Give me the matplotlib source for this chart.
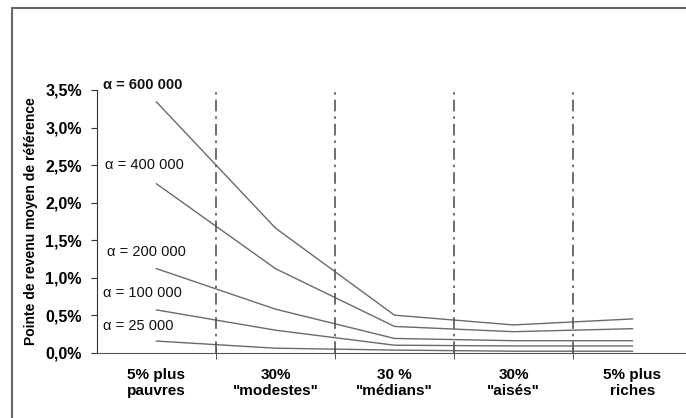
import matplotlib
matplotlib.use("Agg")
import matplotlib.pyplot as plt
from matplotlib.patches import Rectangle
from matplotlib.ticker import FuncFormatter

plt.rcParams['font.family'] = ['Liberation Sans', 'DejaVu Sans']

# categories de revenu
categories = ['5% plus\npauvres', '30%\n"modestes"', '30 %\n"médians"',
              '30%\n"aisés"', '5% plus\nriches']

# pointe de revenu moyen (en %) pour chaque alpha
alpha_labels = ['α = 600 000', 'α = 400 000', 'α = 200 000', 'α = 100 000', 'α = 25 000']
v600 = [3.34, 1.66, 0.50, 0.37, 0.45]
v400 = [2.25, 1.12, 0.35, 0.28, 0.32]
v200 = [1.12, 0.58, 0.19, 0.16, 0.16]
v100 = [0.57, 0.30, 0.10, 0.09, 0.09]
v25 = [0.155, 0.06, 0.035, 0.02, 0.02]
series = [v600, v400, v200, v100, v25]

# position des etiquettes (x en categorie, y en %)
lab_x = [0.05, 0.07, 0.08, 0.05, 0.05]
lab_y = [3.57, 2.50, 1.345, 0.80, 0.35]

fig = plt.figure(figsize=(6.86, 4.18), dpi=100)
ax = fig.add_axes([0.1414, 0.1562, 0.8673, 0.6285])

xs = [i + 0.5 for i in range(len(categories))]
for vals in series:
    ax.plot(xs, vals, color='#6a6a6a', lw=1.0)

for i, lab in enumerate(alpha_labels):
    ax.text(lab_x[i], lab_y[i], lab, fontsize=10.5, va='center', ha='left',
            fontweight='bold' if i == 0 else 'normal', color='#111111')

# separations entre categories
for b in range(1, len(categories)):
    ax.axvline(b, color='#555555', lw=1.2, ls=(0, (7, 3, 1.5, 3)))

ax.set_xlim(0, 5)
ax.set_ylim(0, 3.5)
ax.set_yticks([0.5 * k for k in range(8)])
ax.yaxis.set_major_formatter(FuncFormatter(lambda v, p: ('%.1f%%' % v).replace('.', ',')))
ax.set_xticks(xs)
ax.set_xticklabels(categories, fontsize=11, fontweight='bold')
ax.set_xticks(range(1, 5), minor=True)
ax.tick_params(axis='x', which='major', length=0, pad=11)
ax.tick_params(axis='x', which='minor', length=8, direction='inout', color='#333333')
ax.tick_params(axis='y', length=4, direction='out', pad=7, labelsize=11.5, color='#333333')
for t in ax.get_yticklabels():
    t.set_fontweight('bold')
ax.spines['top'].set_visible(False)
ax.spines['right'].set_visible(False)
ax.spines['left'].set_color('#333333')
ax.spines['bottom'].set_color('#555555')

ax.set_ylabel('Pointe de revenu moyen de référence', fontsize=10, fontweight='bold', labelpad=5)

fig.patches.append(Rectangle((0.0175, -0.02), 1.1, 1.0, transform=fig.transFigure,
                             fill=False, edgecolor='#666666', lw=1.5))

fig.savefig('out.png', dpi=100)
